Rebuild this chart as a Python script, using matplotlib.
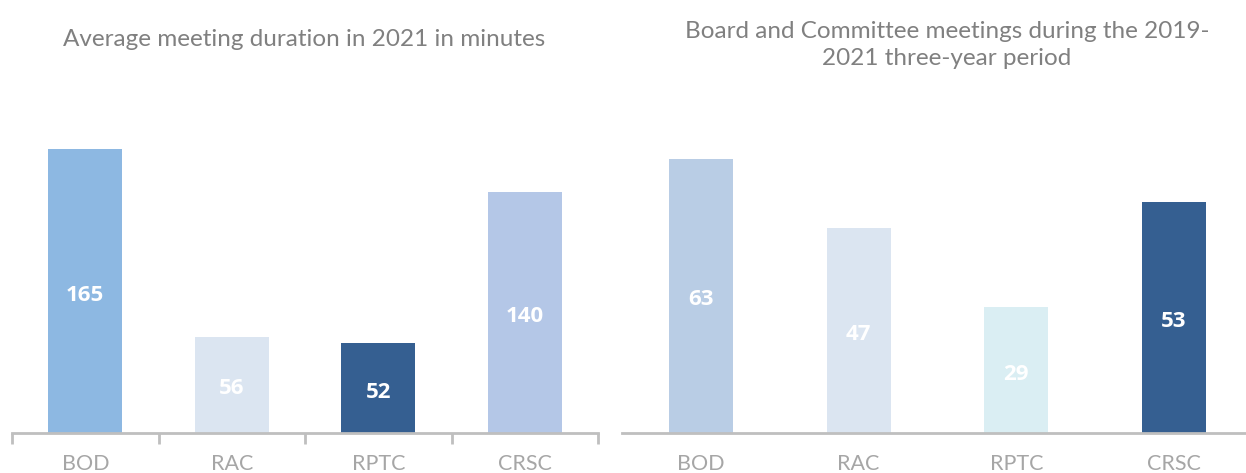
import matplotlib
matplotlib.use("Agg")
from matplotlib import pyplot as plt

# data
categories = ["BOD", "RAC", "RPTC", "CRSC"]
duration_min = [165, 56, 52, 140]
meetings_3y = [63, 47, 29, 53]

colors_left = ["#8DB8E2", "#DBE5F1", "#355F91", "#B4C7E7"]
colors_right = ["#B9CDE5", "#DBE5F1", "#DAEEF3", "#355F91"]

plt.rcParams['font.family'] = ['Lato', 'DejaVu Sans']

W, H = 1246, 473
fig = plt.figure(figsize=(W / 100, H / 100), dpi=100)

axis_grey = "#BFBFBF"
text_grey = "#A6A6A6"
title_grey = "#808080"


def px_axes(x0, x1, ybot, ytop):
    return fig.add_axes([x0 / W, (H - ybot) / H, (x1 - x0) / W, (ybot - ytop) / H])


def style(ax, ymax, ticks):
    ax.set_ylim(0, ymax)
    ax.set_xlim(-0.5, 3.5)
    for s in ["top", "right", "left"]:
        ax.spines[s].set_visible(False)
    ax.spines["bottom"].set_color(axis_grey)
    ax.spines["bottom"].set_linewidth(2)
    ax.set_yticks([])
    ax.set_xticks(range(4))
    ax.set_xticklabels(categories, fontsize=15.5, color=text_grey)
    ax.tick_params(axis="x", which="major", length=0, pad=15)
    if ticks:
        ax.set_xticks([-0.5, 0.5, 1.5, 2.5, 3.5], minor=True)
        ax.tick_params(axis="x", which="minor", length=8, width=2, color=axis_grey, direction="out")


def labels(ax, bars, vals):
    for b, v in zip(bars, vals):
        ax.annotate(str(v), (b.get_x() + b.get_width() / 2, v / 2), xytext=(0, -3),
                    textcoords="offset points", ha="center", va="center",
                    color="white", fontsize=16, fontweight="bold", family="Open Sans")


# left chart
ax1 = px_axes(12, 598, 433, 433 - 180 * 1.7212)
bars = ax1.bar(range(4), duration_min, width=0.505, color=colors_left)
style(ax1, 180, True)
labels(ax1, bars, duration_min)
fig.text(304 / W, 1 - 40 / H, "Average meeting duration in 2021 in minutes",
         ha="center", va="center", fontsize=17.5, color=title_grey)

# right chart
ax2 = px_axes(622, 1253, 433, 433 - 70 * 4.355)
bars = ax2.bar(range(4), meetings_3y, width=0.405, color=colors_right)
style(ax2, 70, False)
labels(ax2, bars, meetings_3y)
fig.text(947 / W, 1 - 45 / H, "Board and Committee meetings during the 2019-\n2021 three-year period",
         ha="center", va="center", fontsize=17.5, color=title_grey, linespacing=1.3)

fig.savefig("out.png", dpi=100)
